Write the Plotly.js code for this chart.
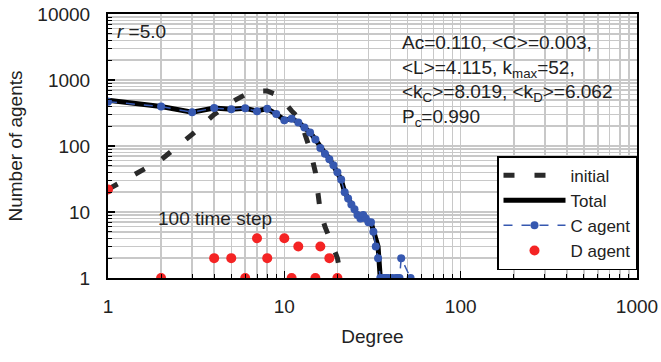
<!DOCTYPE html>
<html>
<head>
<meta charset="utf-8">
<script src="https://cdn.plot.ly/plotly-3.0.1.min.js"></script>
<style>html,body{margin:0;padding:0;background:#fff;}#chart{width:661px;height:362px;}</style>
</head>
<body>
<div id="chart"></div>
<script>
// Initial degree distribution
const initialDegree = [1,2,3,4,5,6,7,8,9,10,11,12,13,14,15,16,17,18,19,20,21];
const initialCount  = [22,62,150,300,460,600,680,680,600,460,340,270,160,88,40,10,6,4,3,2,1];

// Total at 100 time step
const totalDegree = [1,2,3,4,5,6,7,8,9,10,11,12,13,14,15,16,17,18,19,20,21,22,23,24,25,26,27,28,29,30,31,32,33,34,35];
const totalCount  = [492,396,325,377,362,373,339,369,305,249,259,231,190,160,126,96,78,65,51,41,31,20,16,13,11,9,8,9,8,7,7,5,3.5,3,1];

// C agents
const cDegree = [1,2,3,4,5,6,7,8,9,10,11,12,13,14,15,16,17,18,19,20,21,22,23,24,25,26,27,28,29,30,31,32,33,34,35,36,37,38,39,41,43,44,45,46,52];
const cCount  = [470,395,325,375,360,372,335,367,305,245,258,228,190,160,125,93,76,63,51,40,31,20,16,13,11,9,8,9,8,7,7,5,3,2,1,1,1,1,1,1,1,1,1,2,1];

// D agents
const dDegree = [1,2,4,5,6,7,8,10,11,12,15,16,18,20];
const dCount  = [22,1,2,2,1,4,2,4,1,3,1,3,2,1];

const xTickVals = [1,10,100,1000];
const xTickText = ['1','10','100','1000'];
const yTickVals = [1,10,100,1000,10000];
const yTickText = ['1','10','100','1000','10000'];

const FONT = 'Liberation Sans, Arial, sans-serif';
const grid = '#c8c8c8';

const traces = [
  {x: initialDegree, y: initialCount, name: 'initial', mode: 'lines',
   line: {color: '#2a2a2a', width: 5, dash: '11px,20px'}},
  {x: totalDegree, y: totalCount, name: 'Total', mode: 'lines',
   line: {color: '#000000', width: 5}},
  {x: cDegree, y: cCount, name: 'C agent', mode: 'lines+markers',
   line: {color: '#3658b0', width: 1.5, dash: 'dash'},
   marker: {color: '#3658b0', size: 8}},
  {x: dDegree, y: dCount, name: 'D agent', mode: 'markers',
   marker: {color: '#f42424', size: 10, symbol: 'circle'}}
];

const axisCommon = {
  type: 'log', showline: true, linecolor: '#000', linewidth: 2, mirror: true,
  showgrid: true, gridcolor: grid, gridwidth: 1.5, zeroline: false,
  ticks: 'inside', ticklen: 7, tickcolor: '#000', tickwidth: 1.5,
  tickfont: {family: FONT, size: 19, color: '#222'},
  minor: {dtick: 'D1', showgrid: true, gridcolor: grid, gridwidth: 1.5, ticks: 'inside', ticklen: 4, tickcolor: '#000', tickwidth: 1}
};

const layout = {
  width: 661, height: 362,
  margin: {l: 108, r: 24, t: 14, b: 84},
  paper_bgcolor: '#fff', plot_bgcolor: '#fff',
  font: {family: FONT, size: 19, color: '#222'},
  showlegend: true,
  xaxis: Object.assign({}, axisCommon, {
    range: [0, 3], tickvals: xTickVals, ticktext: xTickText, ticklabelstandoff: 10,
    title: {text: 'Degree', font: {family: FONT, size: 19, color: '#222'}, standoff: 14}
  }),
  yaxis: Object.assign({}, axisCommon, {
    range: [0, 4], tickvals: yTickVals, ticktext: yTickText, ticklabelstandoff: 12,
    title: {text: 'Number of agents', font: {family: FONT, size: 19, color: '#222'}, standoff: 10}
  }),
  legend: {
    x: 1, xanchor: 'right', y: 0.03, yanchor: 'bottom',
    bgcolor: '#fff', bordercolor: '#000', borderwidth: 1.5,
    font: {family: FONT, size: 17, color: '#222'},
    tracegroupgap: 0, itemwidth: 62
  },
  annotations: [
    {xref: 'paper', yref: 'paper', x: 0.013, y: 0.932, xanchor: 'left', yanchor: 'middle', showarrow: false,
     text: '<i>r</i> =5.0', font: {family: FONT, size: 19, color: '#222'}},
    {xref: 'paper', yref: 'paper', x: 0.552, y: 0.94, xanchor: 'left', yanchor: 'top', showarrow: false, align: 'left',
     text: 'Ac=0.110, &lt;C&gt;=0.003,<br>&lt;L&gt;=4.115, k<sub>max</sub>=52,<br>&lt;k<sub>C</sub>&gt;=8.019, &lt;k<sub>D</sub>&gt;=6.062<br>P<sub>c</sub>=0.990',
     font: {family: FONT, size: 19, color: '#222'}},
    {xref: 'paper', yref: 'paper', x: 0.202, y: 0.227, xanchor: 'center', yanchor: 'middle', showarrow: false,
     text: '100 time step', font: {family: FONT, size: 19, color: '#222'}}
  ]
};

Plotly.newPlot('chart', traces, layout, {displayModeBar: false, staticPlot: true});
</script>
</body>
</html>
